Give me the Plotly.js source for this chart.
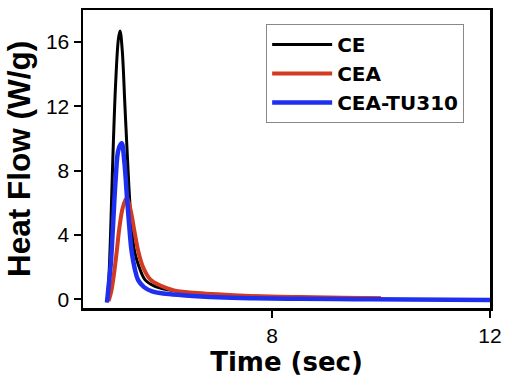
<!DOCTYPE html>
<html>
<head>
<meta charset="utf-8">
<script src="https://cdn.plot.ly/plotly-3.0.1.min.js"></script>
<style>html,body{margin:0;padding:0;background:#fff;}#chart{width:520px;height:378px;}</style>
</head>
<body>
<div id="chart"></div>
<script>
const seriesNames = ["CE", "CEA", "CEA-TU310"];
const ceTime = [4.97, 5.00, 5.04, 5.08, 5.13, 5.18, 5.21, 5.25, 5.30, 5.35, 5.40, 5.47, 5.55, 5.67, 5.85, 6.10, 6.40, 7.00, 7.60, 8.50, 9.30, 10.00];
const ceHeat = [-0.2, 1.0, 4.5, 9.0, 13.5, 16.2, 16.7, 15.5, 12.0, 8.5, 5.5, 3.1, 2.1, 1.2, 0.8, 0.58, 0.43, 0.28, 0.18, 0.12, 0.08, 0.05];
const ceaTime = [5.00, 5.05, 5.10, 5.15, 5.20, 5.26, 5.33, 5.40, 5.47, 5.54, 5.62, 5.76, 5.95, 6.20, 6.40, 7.00, 7.60, 8.50, 9.30, 10.00];
const ceaHeat = [-0.1, 0.5, 1.6, 3.0, 4.5, 5.7, 6.3, 5.6, 4.3, 3.05, 2.1, 1.25, 0.85, 0.55, 0.45, 0.3, 0.2, 0.13, 0.09, 0.05];
const tuTime = [4.97, 5.00, 5.04, 5.08, 5.13, 5.18, 5.24, 5.29, 5.34, 5.38, 5.42, 5.48, 5.54, 5.65, 5.80, 6.00, 6.36, 7.00, 7.60, 8.50, 9.50, 10.50, 12.0];
const tuHeat = [-0.2, 0.8, 2.2, 4.5, 7.5, 9.3, 9.7, 8.5, 6.2, 4.5, 3.05, 1.9, 1.2, 0.75, 0.48, 0.35, 0.25, 0.12, 0.06, 0.02, 0.0, -0.02, -0.05];

const traces = [
  {x: ceTime, y: ceHeat, name: seriesNames[0], legendgroup: "a", mode: "lines", line: {color: "#000000", width: 3, shape: "spline"}},
  {x: ceaTime, y: ceaHeat, name: seriesNames[1], legendgroup: "b", mode: "lines", line: {color: "#d23a22", width: 4, shape: "spline"}},
  {x: tuTime, y: tuHeat, name: seriesNames[2], legendgroup: "c", mode: "lines", line: {color: "#1f2ff0", width: 4.5, shape: "spline"}}
];

const layout = {
  width: 520, height: 378,
  margin: {l: 83, r: 30, t: 10, b: 70},
  paper_bgcolor: "#fff", plot_bgcolor: "#fff",
  font: {family: "Liberation Sans, Arial, sans-serif", color: "#000"},
  showlegend: true,
  legend: {
    x: 0.45, y: 0.953, xanchor: "left", yanchor: "top",
    bordercolor: "#888", borderwidth: 1, bgcolor: "#fff",
    font: {size: 20, family: "DejaVu Sans, sans-serif", weight: "bold", color: "#000"},
    itemwidth: 60, tracegroupgap: 0.5, traceorder: "normal"
  },
  xaxis: {
    range: [4.53, 12], tick0: 0, dtick: 4,
    showgrid: false, zeroline: false,
    showline: true, linecolor: "#000", linewidth: 2.5, mirror: true,
    ticks: "outside", ticklen: 7, tickwidth: 2, tickcolor: "#000",
    tickfont: {size: 21},
    title: {text: "Time (sec)", font: {size: 26, family: "DejaVu Sans, sans-serif", weight: "bold"}, standoff: 2}
  },
  yaxis: {
    range: [-0.55, 18], tick0: 0, dtick: 4,
    showgrid: false, zeroline: false,
    showline: true, linecolor: "#000", linewidth: 2.5, mirror: true,
    ticks: "outside", ticklen: 7, tickwidth: 2, tickcolor: "#000",
    tickfont: {size: 21},
    title: {text: "Heat Flow (W/g)", font: {size: 31.5, weight: "bold"}, standoff: 6}
  }
};

Plotly.newPlot("chart", traces, layout, {displayModeBar: false, staticPlot: true});
</script>
</body>
</html>
